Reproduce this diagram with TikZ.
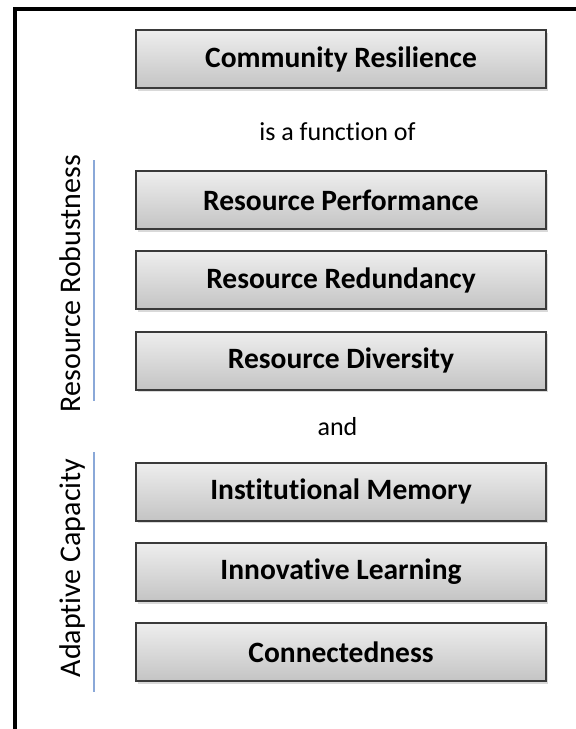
\documentclass[tikz,border=0pt]{standalone}
\usepackage{fontspec}
\setmainfont{Carlito}[RawFeature=-liga]
\usetikzlibrary{shadows}
\usetikzlibrary{positioning}
\definecolor{boxedge}{HTML}{3A3A3A}
\definecolor{boxtop}{HTML}{EEEEEE}
\definecolor{boxbottom}{HTML}{C4C4C4}
\definecolor{bracketblue}{HTML}{8AA8D8}
\tikzset{
  factor/.style={draw=boxedge, line width=2pt, top color=boxtop, bottom color=boxbottom,
    minimum width=410pt, minimum height=58pt, inner sep=0pt,
    font=\fontsize{29.5}{34}\selectfont\bfseries,
    drop shadow={shadow xshift=2pt, shadow yshift=-2.5pt, opacity=0.3}},
  linker/.style={font=\fontsize{26}{30}\selectfont, anchor=base, inner sep=0pt},
  side/.style={font=\fontsize{30}{34}\selectfont, rotate=90, anchor=base, inner sep=0pt},
  bracket/.style={draw=bracketblue, line width=1.7pt}
}
\begin{document}
\begin{tikzpicture}[x=1pt, y=-1pt]
    \useasboundingbox (0, 0) rectangle (576, 729);
    \draw [line width=4pt] (14.5, 740) -- (14.5, 9) -- (590, 9);

    \node [factor] (commres) at (341, 59) {Community Resilience};
    \node [linker] (funcof) at (337.5, 140) {is a function of};

    \node [factor] (resperf) at (341, 200) {Resource Performance};
    \node [factor] (resred) at (341, 280) {Resource Redundancy};
    \node [factor] (resdiv) at (341, 360.5) {Resource Diversity};
    \node [linker] (andtxt) at (337.5, 435) {and};

    \node [factor] (instmem) at (341, 491.5) {Institutional Memory};
    \node [factor] (innlearn) at (341, 572) {Innovative Learning};
    \node [factor] (connect) at (341, 652) {Connectedness};

    \coordinate (robtop) at (94, 160);
    \coordinate (robbot) at (94, 401);
    \coordinate (adatop) at (94, 452);
    \coordinate (adabot) at (94, 692);
    \draw [bracket] (robtop) -- (robbot);
    \draw [bracket] (adatop) -- (adabot);
    \node [side] (robust) at (80, 283.5) {Resource Robustness};
    \node [side] (adaptive) at (80, 568) {Adaptive Capacity};
\end{tikzpicture}
\end{document}
